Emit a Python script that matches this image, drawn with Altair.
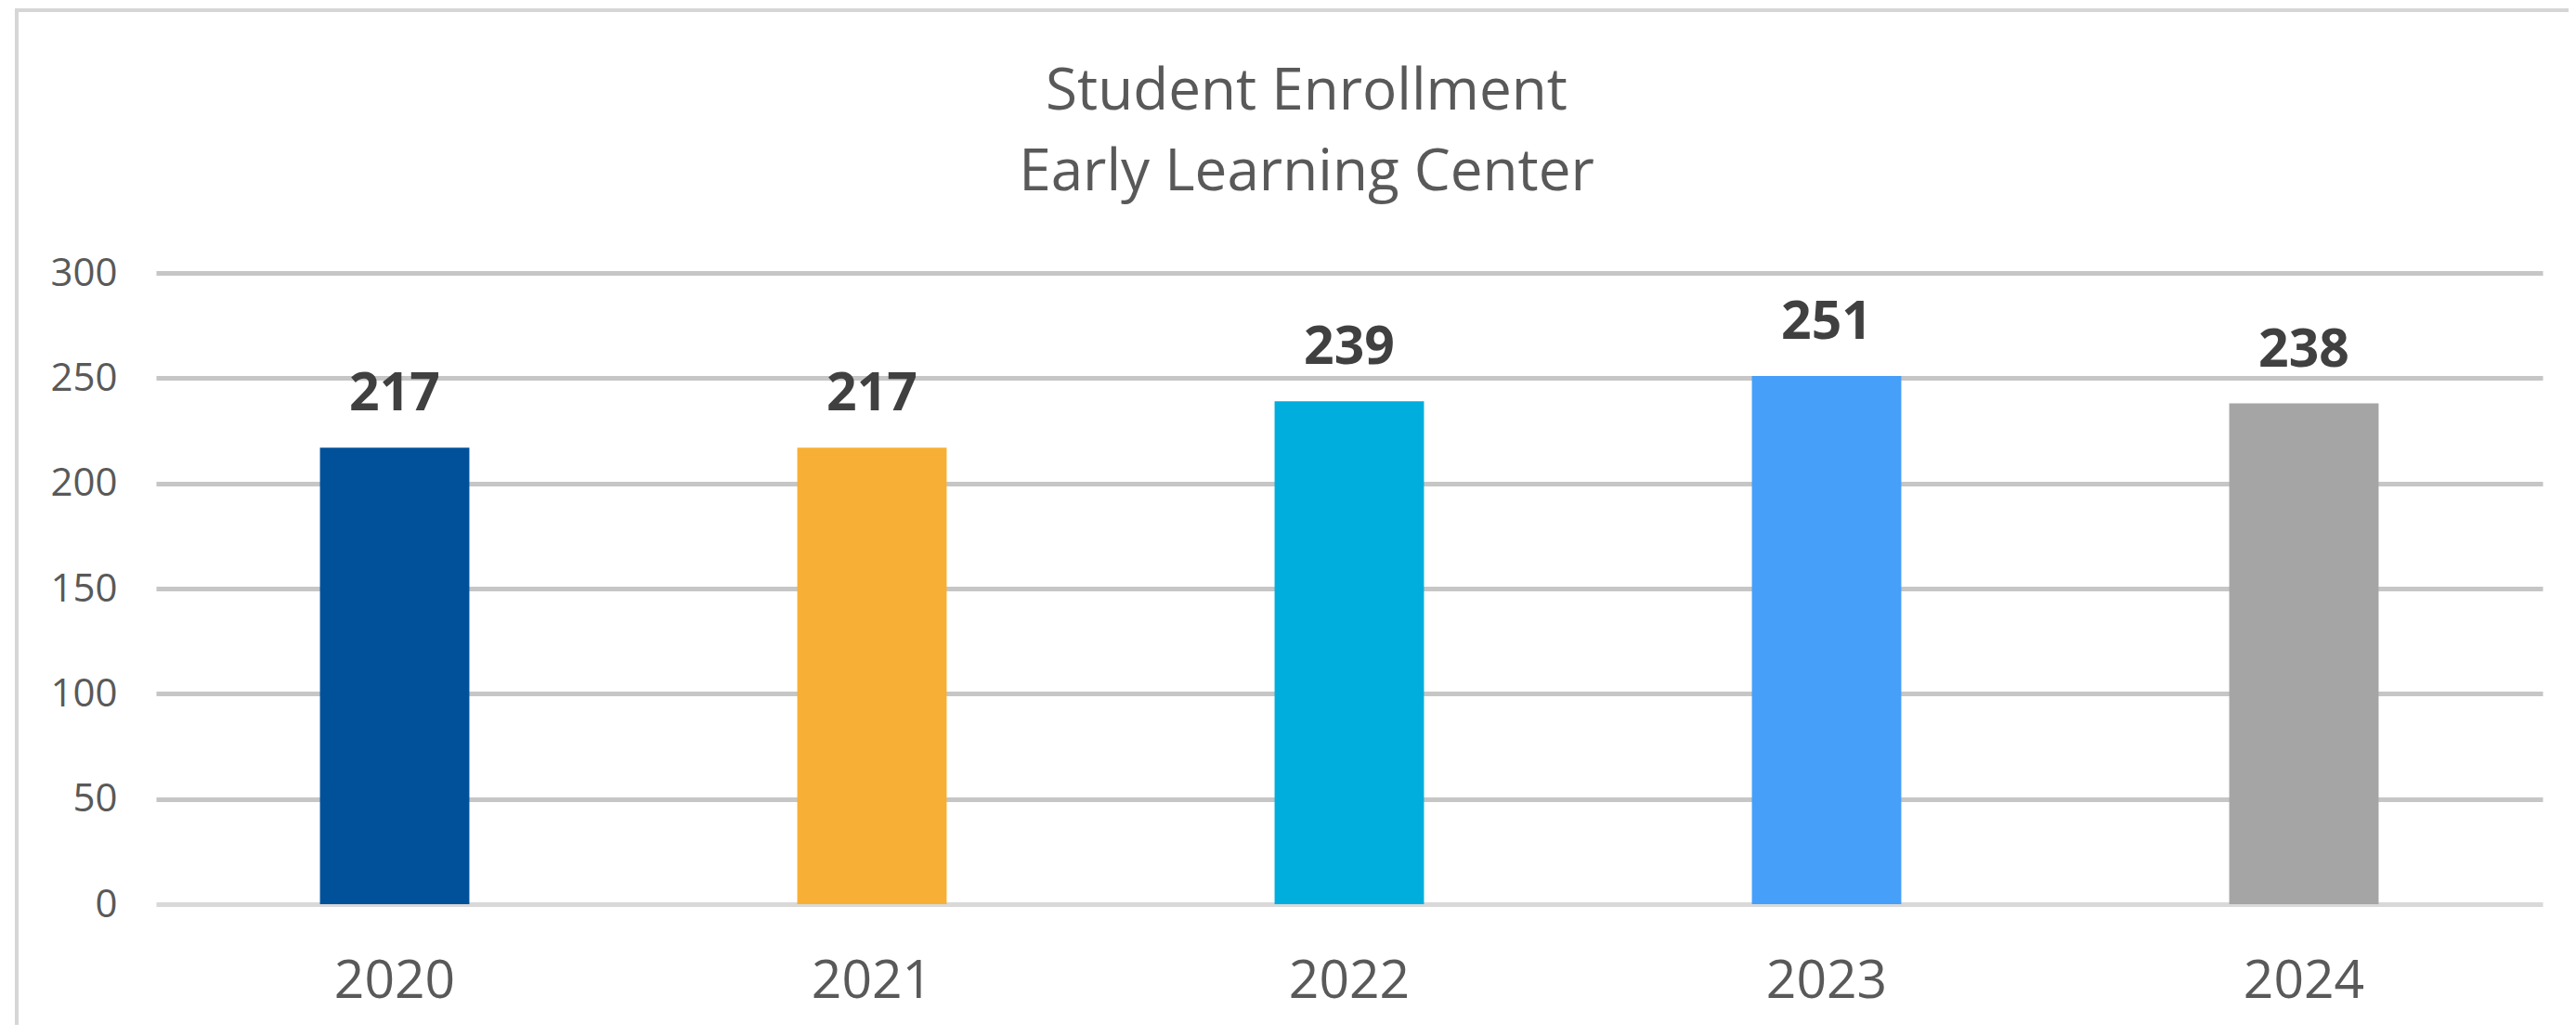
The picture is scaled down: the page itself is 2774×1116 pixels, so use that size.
import altair as alt
import pandas as pd

years = ["2020", "2021", "2022", "2023", "2024"]
enrollment = [217, 217, 239, 251, 238]
bar_colors = ["#00519A", "#F8AF36", "#00AEDD", "#469FF9", "#A5A5A5"]
y_ticks = [0, 50, 100, 150, 200, 250, 300]
title_lines = ["Student Enrollment", "Early Learning Center"]

df = pd.DataFrame({"year": years, "value": enrollment})

FONT = "Open Sans"

x_enc = alt.X(
    "year:N",
    sort=years,
    scale=alt.Scale(paddingInner=0.687, paddingOuter=0.3435),
    axis=alt.Axis(
        title=None,
        labelAngle=0,
        labelFont=FONT,
        labelFontSize=57,
        labelColor="#595959",
        labelBaseline="alphabetic",
        labelPadding=100,
        ticks=False,
        tickSize=0,
        domain=False,
        grid=False,
    ),
)

y_enc = alt.Y(
    "value:Q",
    scale=alt.Scale(domain=[0, 300], nice=False),
    axis=alt.Axis(
        title=None,
        values=y_ticks,
        labelFont=FONT,
        labelFontSize=42,
        labelColor="#595959",
        labelPadding=42,
        ticks=False,
        tickSize=0,
        domain=False,
        gridColor=alt.condition("datum.value === 0", alt.value("#D9D9D9"), alt.value("#C6C6C6")),
        gridWidth=5,
    ),
)

frame = alt.Chart(alt.Data(values=[{"f": 1}])).mark_rect(
    fill="transparent", stroke="#D6D6D6", strokeWidth=4, clip=False
).encode(
    x=alt.value(-150), x2=alt.value(2640), y=alt.value(-283), y2=alt.value(860)
)

bars = alt.Chart(df).mark_bar().encode(
    x=x_enc,
    y=y_enc,
    color=alt.Color("year:N", scale=alt.Scale(domain=years, range=bar_colors), legend=None),
)

labels = alt.Chart(df).mark_text(
    font=FONT, fontSize=57, fontWeight="bold", color="#404040", baseline="alphabetic", dy=-40
).encode(
    x=alt.X("year:N", sort=years),
    y=alt.Y("value:Q"),
    text=alt.Text("value:Q"),
)

chart = alt.layer(frame, bars, labels).properties(
    width=2570,
    height=680,
    autosize=alt.AutoSizeParams(type="none"),
    padding={"left": 160, "top": 286, "right": 28, "bottom": 130},
    background="white",
    title=alt.TitleParams(
        text=title_lines,
        font=FONT,
        fontSize=62,
        fontWeight="normal",
        color="#595959",
        anchor="middle",
        frame="group",
        dx=-46,
        dy=209,
        offset=0,
        lineHeight=87,
    ),
).configure_view(stroke=None)

chart.save("out.html", embed_options={"renderer": "svg", "actions": False})
